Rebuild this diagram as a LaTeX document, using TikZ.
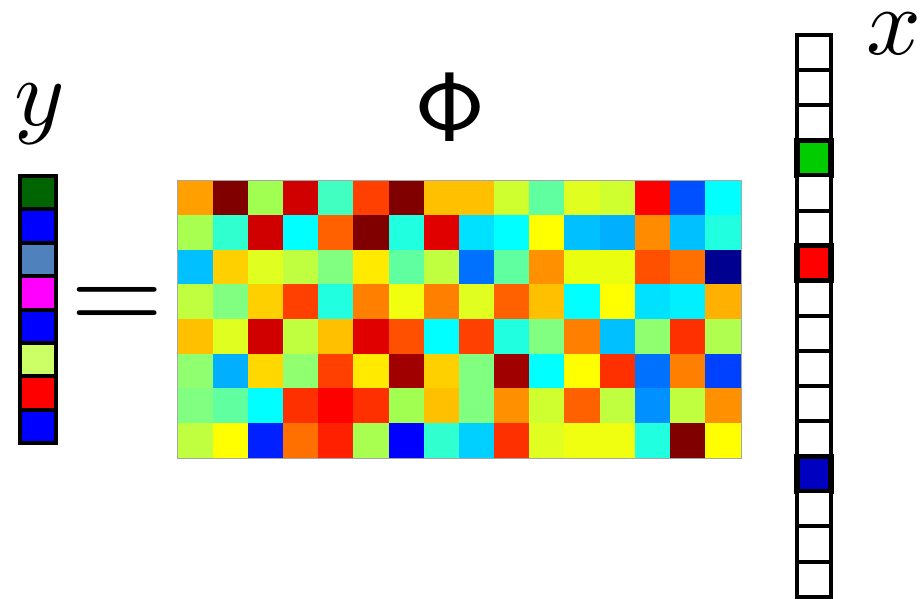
\documentclass[tikz,border=0pt]{standalone}
\usepackage{xcolor}
\usepackage{tikz}
\usetikzlibrary{positioning}

\definecolor{xgreen}{HTML}{00CC00}
\definecolor{xred}{HTML}{FF0000}
\definecolor{xblue}{HTML}{0000C0}

\begin{document}
\begin{tikzpicture}[
		x=0.5pt, y=-0.5pt,
		pixel/.style={rectangle, inner sep=0pt, anchor=north west, minimum width=17.75pt, minimum height=17.45pt},
		ycell/.style={rectangle, draw=black, line width=2pt, inner sep=0pt, minimum width=18pt, minimum height=16.7pt},
		xcell/.style={rectangle, draw=black, line width=2pt, inner sep=0pt, minimum width=17pt, minimum height=17.55pt},
		lab/.style={anchor=base, inner sep=0pt, scale=4.8}
		]

		\useasboundingbox (0,0) rectangle (920,599);

		% measurement matrix Phi, 8 x 16
		\foreach \r/\vals in {
				0/{FFA000,800000,A0FF50,D00000,40FFC0,FF4000,800000,FFC000,FFC000,D0FF30,60FFA0,E0FF20,D0FF30,FF0000,0050FF,00FFFF},
				1/{A8FF50,30FFD0,D00000,00FFFF,FF6000,800000,20FFE0,E00000,00E0FF,00FFFF,FFFF00,00C0FF,00B0FF,FF8C00,00C0FF,20FFE0},
				2/{00C0FF,FFD000,E0FF20,C0FF40,80FF80,FFEA00,60FFA0,C0FF40,0070FF,60FFA0,FF9000,EAFF10,EAFF10,FF5000,FF7000,000090},
				3/{C0FF40,80FF80,FFD000,FF4000,20FFE0,FF8000,F0FF10,FF8000,E0FF20,FF6000,FFC000,00FFFF,FFFF00,00E0FF,00F0FF,FFB000},
				4/{FFC000,E0FF20,D00000,C0FF40,FFC000,E00000,FF5000,00FFFF,FF4000,20FFE0,80FF80,FF8000,00C0FF,90FF70,FF3000,B0FF50},
				5/{90FF70,00B0FF,FFD800,90FF70,FF4000,FFEA00,A00000,FFD000,80FF80,A00000,00FFFF,FFFF00,FF3000,0070FF,FF8000,0040FF},
				6/{80FF80,60FFA0,00FFFF,FF3000,FF0000,FF3000,A0FF50,FFC000,80FF80,FF9000,D0FF30,FF6000,C0FF40,0090FF,C0FF40,FF9000},
				7/{C0FF40,FFFF00,0020FF,FF7000,FF2000,A8FF50,0000FF,30FFD0,00D0FF,FF3000,E0FF20,F0FF10,F0FF10,20FFE0,800000,FFFF00}} {
			\foreach \hex [count=\c from 0] in \vals {
				\edef\setcell{\noexpand\definecolor{cellcol}{HTML}{\hex}}\setcell
				\node[pixel, fill=cellcol] (phi-\r-\c) at ({177+35.19*\c},{180+34.625*\r}) {};
			}
		}
		\draw[gray!70, line width=0.4pt] (phi-0-0.north west) rectangle (phi-7-15.south east);

		% measurements y
		\foreach \hex [count=\i from 0] in {006400,0000FF,4F81BD,FF00FF,0000FF,CCFF66,FF0000,0000FF} {
			\edef\setcell{\noexpand\definecolor{cellcol}{HTML}{\hex}}\setcell
			\node[ycell, fill=cellcol] (y-\i) at (38,{176+33.4*(\i+0.5)}) {};
		}

		% sparse signal x
		\foreach \col/\lw [count=\i from 0] in {white/2,white/2,white/2,xgreen/2.6,white/2,white/2,xred/2.6,white/2,
				white/2,white/2,white/2,white/2,xblue/2.6,white/2,white/2,white/2} {
			\node[xcell, fill=\col, line width=\lw pt] (x-\i) at (814,{35+35.1*(\i+0.5)}) {};
		}

		\node[lab] (ylab) at (40,126) {$y$};
		\node[lab, scale=1.03] (philab) at (450,142) {$\mathsf{\Phi}$};
		\node[lab] (xlab) at (894,55) {$x$};
		\node[scale=6] (eq) at (117,309) {$\mathbf{=}$};
	\end{tikzpicture}
\end{document}
